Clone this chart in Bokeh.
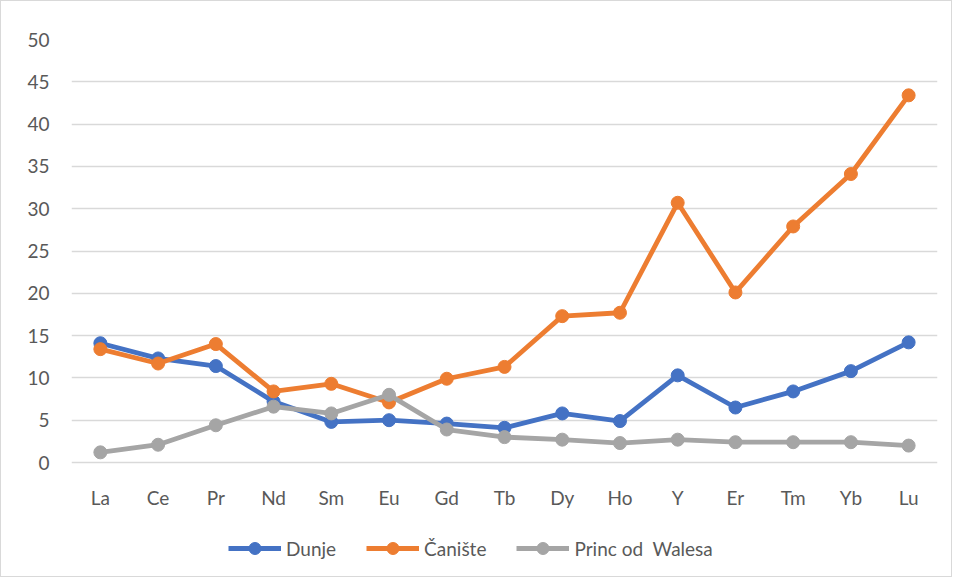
from bokeh.plotting import figure
from bokeh.models import Legend, LegendItem, FixedTicker
from bokeh.embed import file_html
from bokeh.resources import INLINE

elements = ["La", "Ce", "Pr", "Nd", "Sm", "Eu", "Gd", "Tb", "Dy", "Ho", "Y", "Er", "Tm", "Yb", "Lu"]
dunje = [14.1, 12.3, 11.4, 7.2, 4.8, 5.0, 4.6, 4.1, 5.8, 4.9, 10.3, 6.5, 8.4, 10.8, 14.2]
caniste = [13.4, 11.7, 14.0, 8.4, 9.3, 7.1, 9.9, 11.3, 17.3, 17.7, 30.7, 20.1, 27.9, 34.1, 43.4]
walesa = [1.2, 2.1, 4.4, 6.6, 5.8, 8.0, 3.9, 3.0, 2.7, 2.3, 2.7, 2.4, 2.4, 2.4, 2.0]
series_names = ["Dunje", "Čanište", "Princ od  Walesa"]
colors = ["#4472C4", "#ED7D31", "#A5A5A5"]
y_ticks = [0, 5, 10, 15, 20, 25, 30, 35, 40, 45, 50]

FONT = "Lato"
TXT = "#595959"

W, H = 952, 577
TOP, BOTTOM = 38, 0
PX_PER_UNIT = 423 / 50.0          # plot scale: 50 units span 423 px
frame_h = H - TOP - BOTTOM
y_start = 50 - frame_h / PX_PER_UNIT  # room below 0 for labels + legend

p = figure(x_range=elements, y_range=(y_start, 50), width=W, height=H,
           output_backend="svg", toolbar_location=None,
           min_border_left=70, min_border_right=16, min_border_top=TOP, min_border_bottom=BOTTOM)
p.outline_line_color = None
p.xgrid.grid_line_color = None
p.ygrid.grid_line_color = "#D9D9D9"
p.ygrid.grid_line_width = 1.3
p.yaxis.ticker = FixedTicker(ticks=y_ticks)
p.xaxis.fixed_location = 0
for ax in (p.xaxis[0], p.yaxis[0]):
    ax.axis_line_color = None
    ax.major_tick_line_color = None
    ax.minor_tick_line_color = None
    ax.major_tick_out = 0
    ax.major_tick_in = 0
    ax.major_label_text_font = FONT
    ax.major_label_text_font_size = "19px"
    ax.major_label_text_color = TXT
p.yaxis.major_label_standoff = 22
p.xaxis.major_label_standoff = 23

items = []
for name, vals, c in zip(series_names, [dunje, caniste, walesa], colors):
    l = p.line(elements, vals, line_color=c, line_width=4.8)
    s = p.scatter(elements, vals, size=13, fill_color=c, line_color=c)
    items.append(LegendItem(label=name, renderers=[l, s]))

legend = Legend(items=items, orientation="horizontal", location=(157, 15),
                glyph_width=53, glyph_height=30, label_height=30,
                label_standoff=5, spacing=30, padding=0, margin=0,
                border_line_color=None, background_fill_alpha=0,
                label_text_font=FONT, label_text_font_size="19px", label_text_color=TXT)
p.add_layout(legend, "center")
p.styles = {"border": "1px solid #D9D9D9"}

open("out.html", "w").write(file_html(p, INLINE))
